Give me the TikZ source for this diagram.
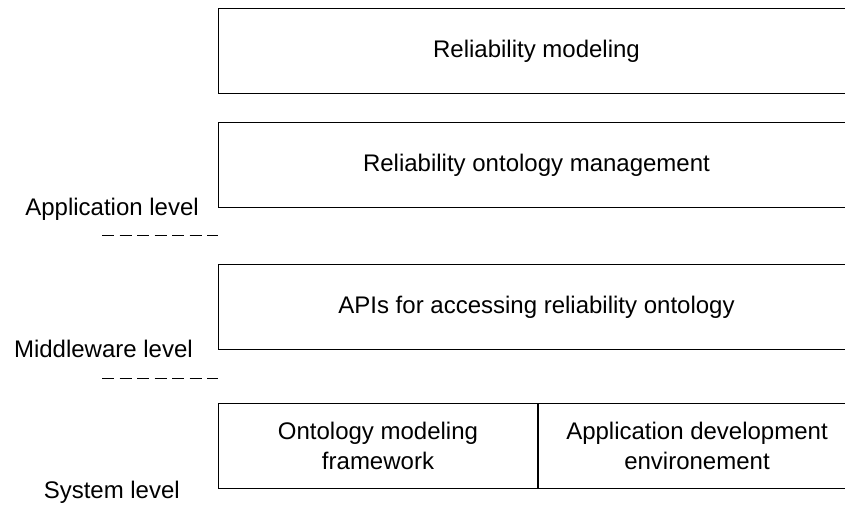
\documentclass[tikz,border=0pt]{standalone}
\usepackage{fontspec}
\setmainfont{Liberation Sans}
\usetikzlibrary{positioning}

\def\esqcamada{218}
\def\largcamada{636pt}
\def\altcamada{85pt}

\tikzset{
    camada/.style={draw, line width=1pt, minimum width=\largcamada, minimum height=\altcamada,
        inner sep=0pt, align=center, anchor=north west},
    nivel/.style={inner sep=0pt, anchor=base east},
    separador/.style={line width=0.9pt, dash pattern=on 12pt off 5.5pt}
}

\begin{document}
\begin{tikzpicture}[x=1pt, y=-1pt, font=\fontsize{24}{30}\selectfont]
    \useasboundingbox (0,0) rectangle (845,519);

%camadas
    \node[camada] (modelagem) at (\esqcamada,8) {Reliability modeling};
    \node[camada] (gestao) at (\esqcamada,122) {Reliability ontology management};
    \node[camada] (api) at (\esqcamada,264) {APIs for accessing reliability ontology};
    \node[camada, minimum width=319pt] (framework) at (\esqcamada,403) {Ontology modeling\\framework};
    \node[camada, minimum width=317pt, anchor=west, right=0pt of framework] (ambiente) {Application development\\environement};

%níveis
    \node[nivel] (aplicacao) at (199,215) {Application level};
    \node[nivel] (middleware) at (193,357) {Middleware level};
    \node[nivel] (sistema) at (180,498) {System level};

    \coordinate (sepAM) at (102,235);
    \coordinate (sepMS) at (102,378);
    \draw[separador] (sepAM) -- (sepAM -| api.west);
    \draw[separador] (sepMS) -- (sepMS -| framework.west);

\end{tikzpicture}
\end{document}
